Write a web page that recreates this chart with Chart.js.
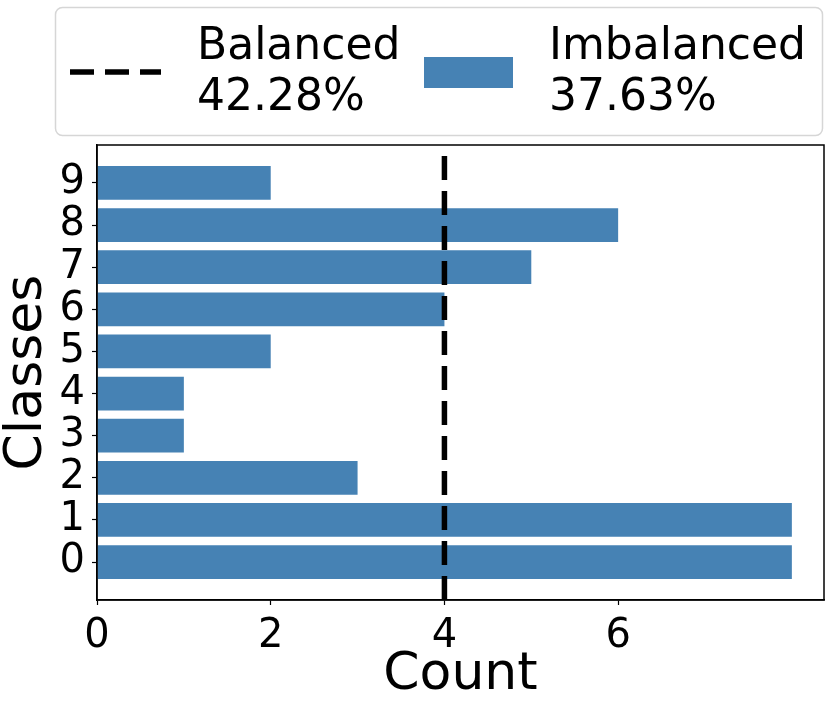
<!DOCTYPE html>
<html lang="en">
<head>
  <meta charset="UTF-8">
  <title>Class Counts</title>
  <script src="https://cdn.jsdelivr.net/npm/chart.js"></script>
  <style>
    html, body {
      margin: 0;
      padding: 0;
      background: #fff;
    }
    #wrap {
      width: 830px;
      height: 712px;
    }
  </style>
</head>
<body>
  <div id="wrap"><canvas id="countChart" width="830" height="712"></canvas></div>

  <script>
    // data
    const classes = [0, 1, 2, 3, 4, 5, 6, 7, 8, 9];
    const counts = [8, 8, 3, 1, 1, 2, 4, 5, 6, 2];
    const balancedCount = 4;
    const xTicks = [0, 2, 4, 6];
    const legendNames = ["Balanced", "Imbalanced"];
    const legendScores = ["42.28%", "37.63%"];

    const FONT = "'DejaVu Sans', sans-serif";
    const BAR = "#4682b4";

    // legend box + top/right spines, drawn after the chart
    const extras = {
      id: "extras",
      afterDraw(chart) {
        const ctx = chart.ctx;
        const a = chart.chartArea;
        ctx.save();

        // axes frame
        ctx.strokeStyle = "#000";
        ctx.lineWidth = 1.5;
        ctx.strokeRect(a.left, a.top, a.right - a.left, a.bottom - a.top);

        // legend frame
        ctx.beginPath();
        ctx.roundRect(55.5, 7.5, 767, 128, 7);
        ctx.fillStyle = "rgba(255,255,255,0.8)";
        ctx.fill();
        ctx.strokeStyle = "#d6d6d6";
        ctx.lineWidth = 1.5;
        ctx.stroke();

        // dashed handle
        ctx.beginPath();
        ctx.setLineDash([24, 11]);
        ctx.lineWidth = 5.5;
        ctx.strokeStyle = "#000";
        ctx.moveTo(70, 72);
        ctx.lineTo(161, 72);
        ctx.stroke();
        ctx.setLineDash([]);

        // bar handle
        ctx.fillStyle = BAR;
        ctx.fillRect(424, 57, 89, 31);

        ctx.fillStyle = "#000";
        ctx.font = "44px " + FONT;
        ctx.textBaseline = "alphabetic";
        ctx.textAlign = "left";
        ctx.fillText(legendNames[0], 197, 59);
        ctx.fillText(legendScores[0], 197, 110);
        ctx.fillText(legendNames[1], 549, 59);
        ctx.fillText(legendScores[1], 549, 110);
        ctx.restore();
      }
    };

    new Chart(document.getElementById("countChart").getContext("2d"), {
      data: {
        datasets: [
          {
            type: "line",
            label: legendNames[0],
            data: [{ x: balancedCount, y: -0.9 }, { x: balancedCount, y: 9.9 }],
            borderColor: "#000",
            borderWidth: 5.5,
            borderDash: [24, 11],
            pointRadius: 0,
            order: 0
          },
          {
            type: "bar",
            label: legendNames[1],
            data: classes.map((c, i) => ({ x: counts[i], y: c })),
            backgroundColor: BAR,
            borderWidth: 0,
            barPercentage: 0.8,
            categoryPercentage: 1.0,
            order: 1
          }
        ]
      },
      options: {
        indexAxis: "y",
        responsive: false,
        animation: false,
        layout: { padding: { top: 145, right: 6, left: 0, bottom: 0 } },
        plugins: {
          legend: { display: false },
          tooltip: { enabled: false }
        },
        scales: {
          x: {
            type: "linear",
            min: 0,
            max: 8.37,
            afterBuildTicks: s => { s.ticks = xTicks.map(v => ({ value: v })); },
            afterFit: s => { s.height = 112; },
            grid: { drawOnChartArea: false, tickLength: 5, tickColor: "#000", tickWidth: 1.2 },
            border: { color: "#000", width: 1.5 },
            ticks: { color: "#000", padding: 8, autoSkip: false, font: { family: FONT, size: 40 } },
            title: {
              display: true,
              text: "Count",
              color: "#000",
              font: { family: FONT, size: 52, lineHeight: 1 },
              padding: { top: 0, bottom: 11 }
            }
          },
          y: {
            type: "linear",
            min: -0.9,
            max: 9.9,
            offset: false,
            afterBuildTicks: s => { s.ticks = classes.map(v => ({ value: v })); },
            afterFit: s => { s.width = 97; },
            grid: { offset: false, drawOnChartArea: false, tickLength: 5, tickColor: "#000", tickWidth: 1.2 },
            border: { color: "#000", width: 1.5 },
            ticks: { color: "#000", padding: 7, autoSkip: false, font: { family: FONT, size: 40 } },
            title: {
              display: true,
              text: "Classes",
              color: "#000",
              font: { family: FONT, size: 52, lineHeight: 1 },
              padding: { top: 1, bottom: 0 }
            }
          }
        }
      },
      plugins: [extras]
    });
  </script>
</body>
</html>
